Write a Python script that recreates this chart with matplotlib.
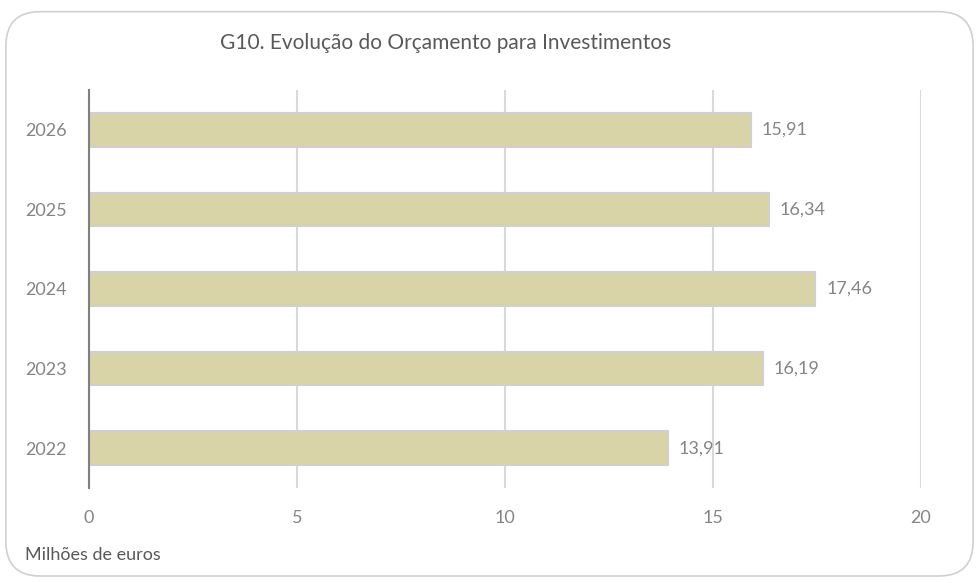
import matplotlib
matplotlib.use("Agg")
import matplotlib.pyplot as plt
from matplotlib.patches import FancyBboxPatch

years = ["2022", "2023", "2024", "2025", "2026"]
values = [13.91, 16.19, 17.46, 16.34, 15.91]
labels = ["13,91", "16,19", "17,46", "16,34", "15,91"]
xticks = [0, 5, 10, 15, 20]

plt.rcParams['font.family'] = ['Lato', 'DejaVu Sans']
gray = "#858585"

fig = plt.figure(figsize=(9.79, 5.83), dpi=100)
fig.patch.set_facecolor("white")
frame = FancyBboxPatch((0.006, 0.012), 0.988, 0.968,
                       boxstyle="round,pad=0,rounding_size=0.035",
                       transform=fig.transFigure, facecolor="none",
                       edgecolor="#d0d0d0", linewidth=1.2, zorder=10,
                       mutation_aspect=979/583)
fig.patches.append(frame)

ax = fig.add_axes([0.0909, 0.163, 0.8499, 0.6826])
ax.set_facecolor("none")
y = list(range(len(years)))
ax.barh(y, values, height=0.42, color="#d9d3a8", edgecolor="#d0d0d0",
        linewidth=1.5, zorder=3)
for yi, v, lab in zip(y, values, labels):
    ax.annotate(lab, (v, yi), xytext=(8, 0), textcoords="offset points",
                va="center", ha="left", fontsize=13, color=gray)

ax.set_xlim(0, 20)
ax.set_ylim(-0.5, 4.5)
ax.set_xticks(xticks)
ax.set_xticklabels([str(t) for t in xticks])
ax.set_yticks(y)
ax.set_yticklabels(years)
ax.tick_params(axis="both", length=0, labelsize=13, labelcolor=gray)
ax.tick_params(axis="x", pad=16)
ax.tick_params(axis="y", pad=16)
ax.grid(axis="x", color="#d9d9d9", linewidth=1.5, zorder=0)
for s in ["top", "right", "bottom"]:
    ax.spines[s].set_visible(False)
ax.spines["left"].set_color("#808080")
ax.spines["left"].set_linewidth(1.5)
ax.spines["left"].set_zorder(4)

fig.text(0.455, 0.927, "G10. Evolução do Orçamento para Investimentos",
         ha="center", va="center", fontsize=15, color="#595959")
fig.text(0.026, 0.048, "Milhões de euros", ha="left", va="center",
         fontsize=13, color="#595959")

fig.savefig("out.png", dpi=100)
